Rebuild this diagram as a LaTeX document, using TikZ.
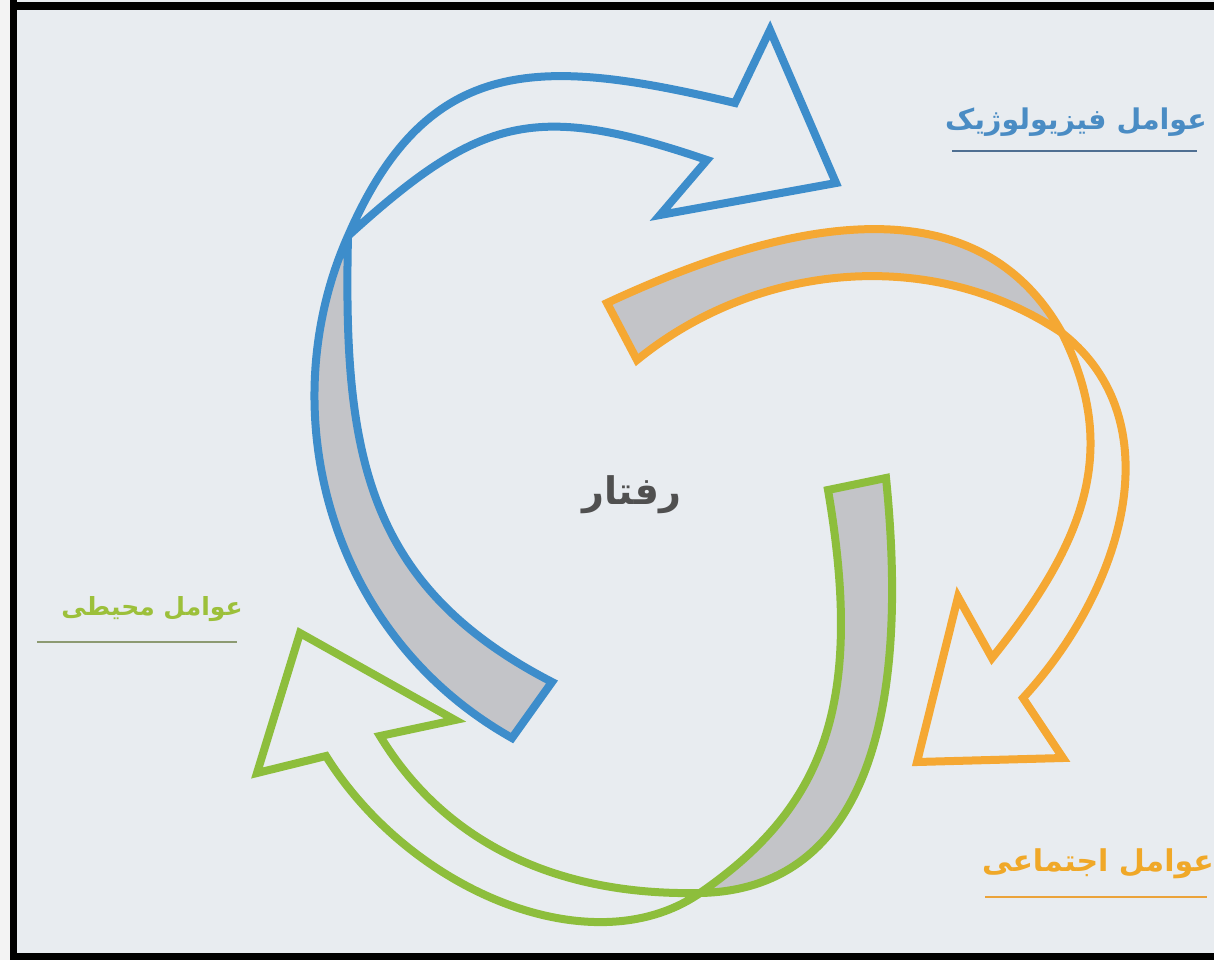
\documentclass[tikz,border=0pt]{standalone}
\usepackage{fontspec}
\newfontfamily\arabicfont[Script=Arabic]{DejaVu Sans}
\TeXXeTstate=1
\definecolor{bgcol}{HTML}{E8ECF0}
\definecolor{stripcol}{HTML}{F3F3F3}
\definecolor{bluecol}{HTML}{3D8DCB}
\definecolor{orangecol}{HTML}{F5A833}
\definecolor{greencol}{HTML}{8DBE3C}
\definecolor{greyfill}{HTML}{C3C4C8}
\definecolor{bluetext}{HTML}{4A8CC4}
\definecolor{orangetext}{HTML}{F0A828}
\definecolor{greentext}{HTML}{9CC03A}
\definecolor{blueline}{HTML}{4F6F92}
\definecolor{orangeline}{HTML}{EBA33A}
\definecolor{greenline}{HTML}{8C9A72}
\definecolor{centertext}{HTML}{505050}
\tikzset{
  ribbon/.style={line width=8pt, line join=miter, miter limit=3},
  backface/.style={ribbon, fill=greyfill},
  frontface/.style={ribbon},
  lbl/.style={inner sep=0pt},
  uline/.style={line width=2.5pt}
}
\begin{document}
\begin{tikzpicture}[x=1pt,y=-1pt]
\useasboundingbox (0,0) rectangle (1214,960);
% background and frame
\fill[stripcol] (0,0) rectangle (1214,960);
\fill[bgcol] (10,0) rectangle (1214,960);
\fill[black] (10,0) rectangle (17,960);
\fill[black] (10,2) rectangle (1214,10);
\fill[black] (10,953) rectangle (1214,960);

% ===== blue arrow =====
\draw[backface, draw=bluecol]
  (348,236) .. controls (271,409) and (327,634) .. (512,738)
  -- (552,682)
  .. controls (366,586) and (343,454) .. (348,236)
  -- cycle;
\draw[frontface, draw=bluecol]
  (348,236) .. controls (428,52) and (541,57) .. (735,103)
  -- (770,30) -- (836,183) -- (660,215) -- (707,160)
  .. controls (536,102) and (481,115) .. (348,236)
  -- cycle;

% ===== orange arrow =====
\draw[backface, draw=orangecol]
  (607,303) .. controls (747,238) and (967,163) .. (1062,333)
  .. controls (931,245) and (756,263) .. (637,360)
  -- cycle;
\draw[frontface, draw=orangecol]
  (1062,333) .. controls (1173,420) and (1125,587) .. (1023,698)
  -- (1063,758) -- (917,762) -- (958,597) -- (992,658)
  .. controls (1086,541) and (1120,449) .. (1062,333)
  -- cycle;

% ===== green arrow =====
\draw[backface, draw=greencol]
  (886,478) .. controls (913,745) and (850,890) .. (700,893)
  .. controls (823,808) and (865,706) .. (828,490)
  -- cycle;
\draw[frontface, draw=greencol]
  (700,893) .. controls (593,967) and (411,892) .. (326,756)
  -- (257,773) -- (300,633) -- (455,720) -- (380,736)
  .. controls (442,838) and (550,896) .. (700,893)
  -- cycle;

% ===== labels =====
\node[lbl, text=bluetext, font=\arabicfont\bfseries\fontsize{28.5}{34}\selectfont] (phys) at (1076,122) {\beginR عوامل فیزیولوژیک\endR};
\draw[uline, blueline] (952,151) -- (1197,151);
\node[lbl, text=orangetext, font=\arabicfont\bfseries\fontsize{30}{36}\selectfont] (soc) at (1098,864) {\beginR عوامل اجتماعی\endR};
\draw[uline, orangeline] (985,897) -- (1207,897);
\node[lbl, text=greentext, font=\arabicfont\bfseries\fontsize{25}{30}\selectfont] (env) at (152,609) {\beginR عوامل محیطی\endR};
\draw[uline, greenline] (37,642) -- (237,642);
\node[lbl, text=centertext, font=\arabicfont\bfseries\fontsize{38}{44}\selectfont] (beh) at (632,495) {\beginR رفتار\endR};
\end{tikzpicture}
\end{document}
